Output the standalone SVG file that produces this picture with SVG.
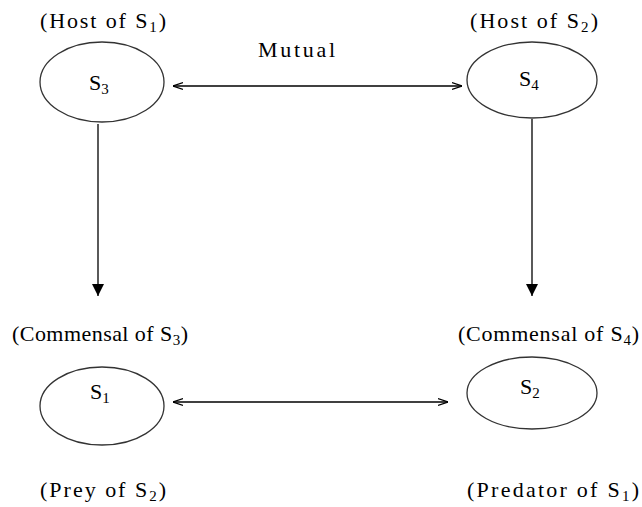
<svg xmlns="http://www.w3.org/2000/svg" width="642" height="507" viewBox="0 0 642 507">
<defs>
<marker id="ah" viewBox="0 0 10 10" refX="10" refY="5" markerWidth="10" markerHeight="10" markerUnits="userSpaceOnUse" orient="auto-start-reverse">
<path d="M0,1.5 L10,5 L0,8.5" fill="none" stroke="#000" stroke-width="1.2"/>
</marker>
<marker id="tri" viewBox="0 0 10 10" refX="10" refY="5" markerWidth="12" markerHeight="12" markerUnits="userSpaceOnUse" orient="auto">
<path d="M0,0 L10,5 L0,10 Z" fill="#000"/>
</marker>
</defs>
<style>
text{font-family:"Liberation Serif","Times New Roman",serif;font-size:22px;fill:#000}
.sub{font-size:15px}
.n{fill:#fff;stroke:#333;stroke-width:1.3}
.c{stroke:#000;stroke-width:1.3;fill:none}
</style>
<rect width="642" height="507" fill="#fff"/>
<g id="connectors">
<line class="c" x1="173" y1="86" x2="462" y2="86" marker-start="url(#ah)" marker-end="url(#ah)"/>
<line class="c" x1="173" y1="402" x2="448" y2="402" marker-start="url(#ah)" marker-end="url(#ah)"/>
<line class="c" x1="98" y1="124" x2="98" y2="296" marker-end="url(#tri)"/>
<line class="c" x1="532" y1="119" x2="532" y2="296" marker-end="url(#tri)"/>
<text x="258" y="57" textLength="77" lengthAdjust="spacing">Mutual</text>
</g>
<g id="S3">
<ellipse class="n" cx="102" cy="82" rx="62" ry="40"/>
<text x="89" y="90">S<tspan class="sub" dy="4">3</tspan></text>
<text x="40" y="28" textLength="126">(Host of S<tspan class="sub" dy="4">1</tspan><tspan dy="-4">)</tspan></text>
</g>
<g id="S4">
<ellipse class="n" cx="532" cy="80" rx="65" ry="38"/>
<text x="519" y="86">S<tspan class="sub" dy="4">4</tspan></text>
<text x="470" y="28" textLength="128">(Host of S<tspan class="sub" dy="4">2</tspan><tspan dy="-4">)</tspan></text>
</g>
<g id="S1">
<ellipse class="n" cx="102" cy="406" rx="62" ry="39"/>
<text x="90" y="399">S<tspan class="sub" dy="4">1</tspan></text>
<text x="12" y="341" textLength="176">(Commensal of S<tspan class="sub" dy="4">3</tspan><tspan dy="-4">)</tspan></text>
<text x="40" y="497" textLength="126">(Prey of S<tspan class="sub" dy="4">2</tspan><tspan dy="-4">)</tspan></text>
</g>
<g id="S2">
<ellipse class="n" cx="532" cy="393" rx="65" ry="36"/>
<text x="520" y="394">S<tspan class="sub" dy="4">2</tspan></text>
<text x="458" y="341" textLength="181">(Commensal of S<tspan class="sub" dy="4">4</tspan><tspan dy="-4">)</tspan></text>
<text x="467" y="497" textLength="172">(Predator of S<tspan class="sub" dy="4">1</tspan><tspan dy="-4">)</tspan></text>
</g>
</svg>
